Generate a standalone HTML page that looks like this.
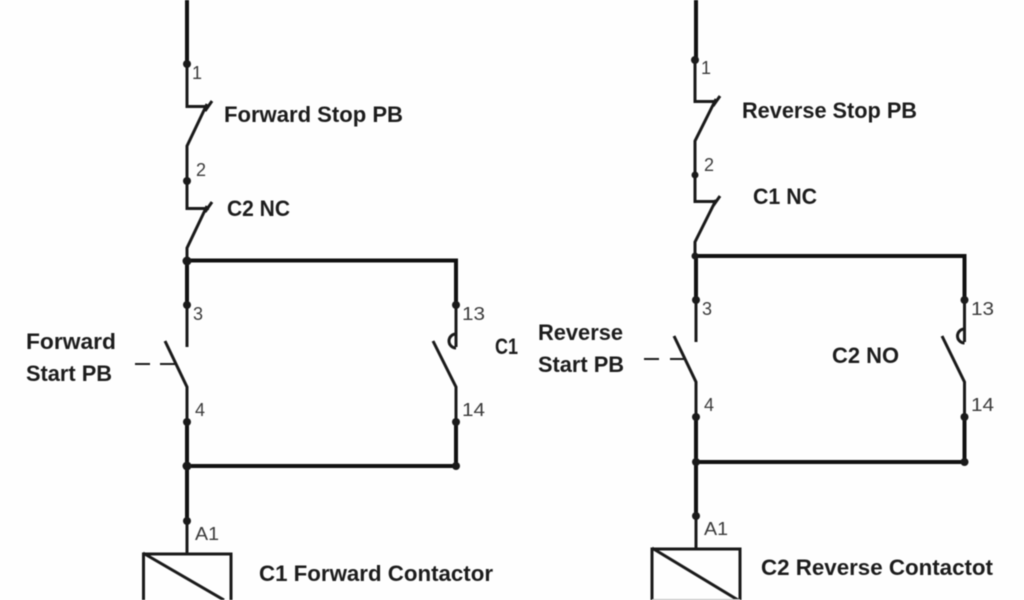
<!DOCTYPE html>
<html><head><meta charset="utf-8">
<style>
html,body{margin:0;padding:0;background:#fff;width:1024px;height:600px;overflow:hidden}
svg{display:block;filter:blur(0.45px)}
.b{font-family:"Liberation Sans",sans-serif;font-weight:bold;font-size:22.500px;fill:#1c1c1c}
.n{font-family:"Liberation Sans",sans-serif;font-size:18px;fill:#3a3a3a}
.t{stroke:#1a1a1a;stroke-width:3;fill:none}
.h{stroke:#111;stroke-width:4;fill:none}
.d{fill:#1a1a1a}
</style></head>
<body>
<svg width="1024" height="600" viewBox="0 0 1024 600" xmlns="http://www.w3.org/2000/svg">
<rect width="1024" height="600" fill="#fefefe"/>

<!-- Left rung -->
<path class="h" d="M187 0V64"/>
<path class="t" d="M187 64V106.500H209M212 101L205 111M207 104L187 146V208.500H209M212 202L205 212M207 206L187 248V261"/>
<path class="h" d="M187 261V305M187 260.500H456V305"/>
<path class="t" d="M187 305V347M456 305V347M165 341L187 387V422M433 341L456 387V422"/>
<path class="t" d="M456 334A7 7 0 0 0 456 348"/>
<path class="t" d="M135 364H150M160 364H175" style="stroke-width:2"/>
<path class="h" d="M187 422V521M187 466H456M456 422V466"/>
<path class="t" d="M187 521V553M143.500 554H231V600M143.500 552.500V600M143 553L224 600"/>
<g class="d">
<circle cx="187" cy="64" r="4"/><circle cx="187" cy="181" r="4"/><circle cx="187" cy="261" r="4.500"/>
<circle cx="187" cy="305" r="4"/><circle cx="456" cy="305" r="4"/><circle cx="187" cy="422" r="4"/>
<circle cx="456" cy="422" r="4"/><circle cx="187" cy="466" r="4.500"/><circle cx="456" cy="466" r="4"/>
<circle cx="187" cy="521" r="4"/>
</g>

<!-- Right rung -->
<path class="h" d="M696 0V60"/>
<path class="t" d="M695 60V101.500H717M720 96L713 106M716 99L695 141V201.500H717M720 196L713 206M716 200L695 242V256"/>
<path class="h" d="M696 256V300M696 256H964.500V300"/>
<path class="t" d="M696 300V342M964.500 300V342M674 336L696 382V417M942 336L964.500 382V417"/>
<path class="t" d="M964.500 329A7 7 0 0 0 964.500 343"/>
<path class="t" d="M644 359H659M670 359H684" style="stroke-width:2"/>
<path class="h" d="M696 417V516M696 462H964.500M964.500 417V462"/>
<path class="t" d="M696 516V548M652 549H740V600M652 547.500V600M652 548L738 600"/>
<path d="M652 599.500H740" stroke="#bbb" stroke-width="1"/>
<g class="d">
<circle cx="695" cy="60" r="4"/><circle cx="695" cy="175" r="3.500"/><circle cx="695" cy="256" r="3.500"/>
<circle cx="696" cy="300" r="4"/><circle cx="964.500" cy="300" r="4"/><circle cx="696" cy="417" r="4"/>
<circle cx="964.500" cy="417" r="4"/><circle cx="696" cy="462" r="4"/><circle cx="964.500" cy="462" r="4"/>
<circle cx="696" cy="516" r="4"/>
</g>

<!-- Bold labels -->
<text class="b" x="224" y="122" textLength="179" lengthAdjust="spacingAndGlyphs">Forward Stop PB</text>
<text class="b" x="227" y="216" textLength="63" lengthAdjust="spacingAndGlyphs">C2 NC</text>
<text class="b" x="26" y="349" textLength="90" lengthAdjust="spacingAndGlyphs">Forward</text>
<text class="b" x="26" y="381" textLength="86" lengthAdjust="spacingAndGlyphs">Start PB</text>
<text class="b" x="495" y="354" textLength="23" lengthAdjust="spacingAndGlyphs">C1</text>
<text class="b" x="259" y="581" textLength="234" lengthAdjust="spacingAndGlyphs">C1 Forward Contactor</text>
<text class="b" x="742" y="118" textLength="175" lengthAdjust="spacingAndGlyphs">Reverse Stop PB</text>
<text class="b" x="753" y="204" textLength="64" lengthAdjust="spacingAndGlyphs">C1 NC</text>
<text class="b" x="538" y="340" textLength="85" lengthAdjust="spacingAndGlyphs">Reverse</text>
<text class="b" x="538" y="372" textLength="86" lengthAdjust="spacingAndGlyphs">Start PB</text>
<text class="b" x="832" y="363" textLength="67" lengthAdjust="spacingAndGlyphs">C2 NO</text>
<text class="b" x="761" y="575" textLength="232" lengthAdjust="spacingAndGlyphs">C2 Reverse Contactot</text>

<!-- Terminal numbers -->
<text class="n" x="192" y="79">1</text>
<text class="n" x="196" y="176">2</text>
<text class="n" x="193" y="320">3</text>
<text class="n" x="195" y="416">4</text>
<text class="n" x="462" y="320" textLength="23" lengthAdjust="spacingAndGlyphs">13</text>
<text class="n" x="462" y="416" textLength="23" lengthAdjust="spacingAndGlyphs">14</text>
<text class="n" x="195" y="540" textLength="24" lengthAdjust="spacingAndGlyphs">A1</text>
<text class="n" x="701" y="74">1</text>
<text class="n" x="704" y="171">2</text>
<text class="n" x="702" y="315">3</text>
<text class="n" x="704" y="411">4</text>
<text class="n" x="971" y="315" textLength="23" lengthAdjust="spacingAndGlyphs">13</text>
<text class="n" x="971" y="411" textLength="23" lengthAdjust="spacingAndGlyphs">14</text>
<text class="n" x="704" y="535" textLength="24" lengthAdjust="spacingAndGlyphs">A1</text>
</svg>
</body></html>
